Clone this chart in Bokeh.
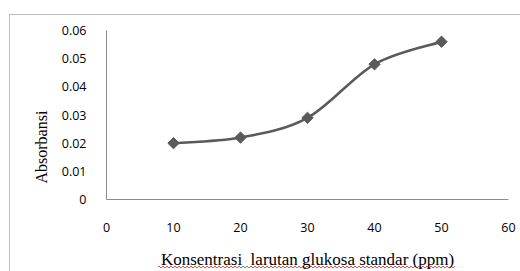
import numpy as np
from bokeh.plotting import figure
from bokeh.models import Range1d, FixedTicker, Title
from bokeh.embed import file_html
from bokeh.resources import INLINE

# data
konsentrasi = [10, 20, 30, 40, 50]
absorbansi = [0.020, 0.022, 0.029, 0.048, 0.056]
x_ticks = [0, 10, 20, 30, 40, 50, 60]
y_ticks = [0, 0.01, 0.02, 0.03, 0.04, 0.05, 0.06]
y_tick_labels = {0: "0", 0.01: "0.01", 0.02: "0.02", 0.03: "0.03",
                 0.04: "0.04", 0.05: "0.05", 0.06: "0.06"}
x_title = "Konsentrasi\u00a0 larutan glukosa standar (ppm)"
y_title = "Absorbansi"

p = figure(width=520, height=271, output_backend="svg", toolbar_location=None,
           x_range=Range1d(0, 60), y_range=Range1d(0, 0.06),
           min_border_left=106, min_border_right=12, min_border_top=30,
           min_border_bottom=71)
p.border_fill_color = None
p.background_fill_color = None
red_a = "repeating-linear-gradient(90deg, #e85050 0 2px, transparent 2px 4px)"
red_b = "repeating-linear-gradient(90deg, transparent 0 2px, #e85050 2px 4px)"
green_a = "repeating-linear-gradient(90deg, #50b050 0 2px, transparent 2px 4px)"
green_b = "repeating-linear-gradient(90deg, transparent 0 2px, #50b050 2px 4px)"
p.styles = {"background": ", ".join([
    green_a + " 242px 266px / 8px 1px no-repeat",
    green_b + " 242px 267px / 8px 1px no-repeat",
    red_a + " 158px 266px / 297px 1px no-repeat",
    red_b + " 158px 267px / 297px 1px no-repeat",
    "linear-gradient(#bdbdbd,#bdbdbd) 9px 14px / 511px 1px no-repeat",
    "linear-gradient(#bdbdbd,#bdbdbd) 9px 14px / 1px 257px no-repeat",
    "#ffffff",
])}
p.outline_line_color = None
p.grid.grid_line_color = None

for ax in (p.xaxis[0], p.yaxis[0]):
    ax.axis_line_color = "#8a8a8a"
    ax.axis_line_width = 1
    ax.major_tick_line_color = None
    ax.minor_tick_line_color = None
    ax.major_label_text_font = "Open Sans"
    ax.major_label_text_font_size = "12.5px"
    ax.major_label_text_color = "#000000"

p.xaxis.ticker = FixedTicker(ticks=x_ticks)
p.yaxis.ticker = FixedTicker(ticks=y_ticks)
p.yaxis.major_label_overrides = y_tick_labels
p.xaxis.major_label_standoff = 17
p.yaxis.major_label_standoff = 14

p.xaxis.axis_label = x_title
p.xaxis.axis_label_standoff = 15
p.xaxis.axis_label_text_font = "Liberation Serif"
p.xaxis.axis_label_text_font_size = "17px"
p.xaxis.axis_label_text_font_style = "normal"
p.xaxis.axis_label_text_color = "#000000"

yt = Title(text=y_title, align="left", offset=16, standoff=18,
           text_font="Liberation Serif", text_font_size="16px",
           text_font_style="normal", text_color="#000000")
p.add_layout(yt, "left")

# smooth curve (Catmull-Rom as Bezier) from the data
xs = np.array(konsentrasi, dtype=float)
ys = np.array(absorbansi, dtype=float)
xp = np.concatenate([[xs[0]], xs, [xs[-1]]])
yp = np.concatenate([[ys[0]], ys, [ys[-1]]])
n = len(xs)
x0 = xs[:-1]; y0 = ys[:-1]; x1 = xs[1:]; y1 = ys[1:]
cx0 = xs[:-1] + (xp[2:n+1] - xp[0:n-1]) / 6.0
cy0 = ys[:-1] + (yp[2:n+1] - yp[0:n-1]) / 6.0
cx1 = xs[1:] - (xp[3:n+2] - xp[1:n]) / 6.0
cy1 = ys[1:] - (yp[3:n+2] - yp[1:n]) / 6.0
p.bezier(x0=x0, y0=y0, x1=x1, y1=y1, cx0=cx0, cy0=cy0, cx1=cx1, cy1=cy1,
         line_color="#5a5a5a", line_width=2.5)
p.scatter(konsentrasi, absorbansi, marker="square", angle=np.pi / 4, size=8,
          fill_color="#5a5a5a", line_color="#5a5a5a")

open("out.html", "w").write(file_html(p, INLINE))
